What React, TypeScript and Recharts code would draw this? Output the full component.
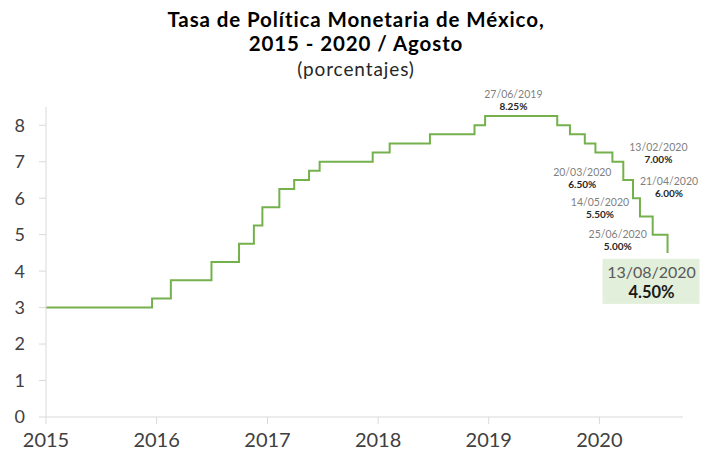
import React from 'react';
import { LineChart, Line, XAxis, YAxis, ReferenceDot } from 'recharts';

// ---- data ----
const changeDates = [
  '2015-01-01', '2015-12-17', '2016-02-17', '2016-06-30', '2016-09-29', '2016-11-17',
  '2016-12-15', '2017-02-09', '2017-03-30', '2017-05-18', '2017-06-22', '2017-12-14',
  '2018-02-08', '2018-06-21', '2018-11-15', '2018-12-20', '2019-08-15', '2019-09-26',
  '2019-11-14', '2019-12-19', '2020-02-13', '2020-03-20', '2020-04-21', '2020-05-14',
  '2020-06-25', '2020-08-13',
];
const rates = [
  3.0, 3.25, 3.75, 4.25, 4.75, 5.25,
  5.75, 6.25, 6.5, 6.75, 7.0, 7.25,
  7.5, 7.75, 8.0, 8.25, 8.0, 7.75,
  7.5, 7.25, 7.0, 6.5, 6.0, 5.5,
  5.0, 4.5,
];
const yearTicks = [2015, 2016, 2017, 2018, 2019, 2020];
const yTicks = [0, 1, 2, 3, 4, 5, 6, 7, 8];
const domainEnd = '2020-10-03';

const annLabels = ['27/06/2019', '13/02/2020', '20/03/2020', '21/04/2020', '14/05/2020', '25/06/2020'];
const annDates = ['2019-06-27', '2020-02-13', '2020-03-20', '2020-04-21', '2020-05-14', '2020-06-25'];
const annValues = [8.25, 7.0, 6.5, 6.0, 5.5, 5.0];
const lastLabel = '13/08/2020';
const lastDate = '2020-08-13';
const lastValue = 4.5;

// ---- layout (offsets of annotation text from its anchor point) ----
const annOffsets: [number, number][] = [
  [-29, -22],
  [46, -14],
  [-41, -7],
  [36, -17],
  [-40, -14],
  [-35, 0],
];

const toTs = (s: string) => {
  const [y, m, d] = s.split('-').map(Number);
  return Date.UTC(y, m - 1, d);
};

const data = changeDates.map((d, i) => ({ t: toTs(d), v: rates[i] }));
const xTicks = yearTicks.map((y) => Date.UTC(y, 0, 1));

const FONT = 'Lato, "DejaVu Sans", sans-serif';
const GREEN = '#74b14c';
const AXIS = '#d9d9d9';

const fmtPct = (v: number) => v.toFixed(2) + '%';

const makeAnnLabel = (idx: number) => (props: any) => {
  const vb = props.viewBox || {};
  const cx = (vb.x ?? 0) + (vb.width ?? 0) / 2;
  const cy = (vb.y ?? 0) + (vb.height ?? 0) / 2;
  const [dx, dy] = annOffsets[idx];
  return (
    <g>
      <text x={cx + dx} y={cy + dy + 3.5} textAnchor="middle" fontFamily={FONT} fontSize={10.5} fill="#7f7f7f">
        {annLabels[idx]}
      </text>
      <text x={cx + dx} y={cy + dy + 15.5} textAnchor="middle" fontFamily={FONT} fontSize={10} fontWeight="bold" fill="#262626">
        {fmtPct(annValues[idx])}
      </text>
    </g>
  );
};

const lastBoxLabel = (props: any) => {
  const vb = props.viewBox || {};
  const cx = (vb.x ?? 0) + (vb.width ?? 0) / 2;
  const cy = (vb.y ?? 0) + (vb.height ?? 0) / 2;
  return (
    <g>
      <rect x={cx - 65} y={cy + 6} width={97} height={45} fill="#e2efda" />
      <text x={cx - 16} y={cy + 25} textAnchor="middle" fontFamily={FONT} fontSize={16} fill="#595959">
        {lastLabel}
      </text>
      <text x={cx - 16} y={cy + 45} textAnchor="middle" fontFamily={FONT} fontSize={16.5} fontWeight="bold" fill="#1a1a1a">
        {fmtPct(lastValue)}
      </text>
    </g>
  );
};

export default function App() {
  return (
    <div style={{ position: 'absolute', left: 0, top: 0, width: 705, height: 454, background: '#fff' }}>
      <svg width={705} height={100} style={{ position: 'absolute', left: 0, top: 0 }}>
        <text x={356} y={27} textAnchor="middle" fontFamily={FONT} fontSize={20.5} letterSpacing={0.9} fontWeight="bold" fill="#000">
          Tasa de Política Monetaria de México,
        </text>
        <text x={356} y={51} textAnchor="middle" fontFamily={FONT} fontSize={20.5} letterSpacing={0.9} fontWeight="bold" fill="#000">
          2015 - 2020 / Agosto
        </text>
        <text x={356} y={76} textAnchor="middle" fontFamily={FONT} fontSize={19} letterSpacing={0.9} fill="#262626">
          (porcentajes)
        </text>
      </svg>
      <div style={{ position: 'absolute', left: 0, top: 0 }}>
        <LineChart width={705} height={454} data={data} margin={{ top: 107, right: 22, bottom: 7, left: 0 }}>
          <XAxis
            dataKey="t"
            type="number"
            domain={[xTicks[0], toTs(domainEnd)]}
            ticks={xTicks}
            tickFormatter={(t: number) => String(new Date(t).getUTCFullYear())}
            height={30}
            tickSize={7}
            tickMargin={9}
            stroke={AXIS}
            tick={{ fill: '#404040', fontSize: 20, fontFamily: FONT }}
            allowDataOverflow
          />
          <YAxis
            type="number"
            domain={[0, 8.5]}
            ticks={yTicks}
            width={46}
            tickSize={7}
            tickMargin={14}
            stroke={AXIS}
            tick={{ fill: '#404040', fontSize: 18, fontFamily: FONT }}
            allowDataOverflow
          />
          <Line
            type="stepAfter"
            dataKey="v"
            stroke={GREEN}
            strokeWidth={2}
            dot={false}
            activeDot={false}
            isAnimationActive={false}
          />
          {annDates.map((d, i) => (
            <ReferenceDot
              key={d}
              x={toTs(d)}
              y={annValues[i]}
              r={0.01}
              fill="none"
              stroke="none"
              ifOverflow="visible"
              label={makeAnnLabel(i)}
            />
          ))}
          <ReferenceDot
            x={toTs(lastDate)}
            y={lastValue}
            r={0.01}
            fill="none"
            stroke="none"
            ifOverflow="visible"
            label={lastBoxLabel}
          />
        </LineChart>
      </div>
    </div>
  );
}
